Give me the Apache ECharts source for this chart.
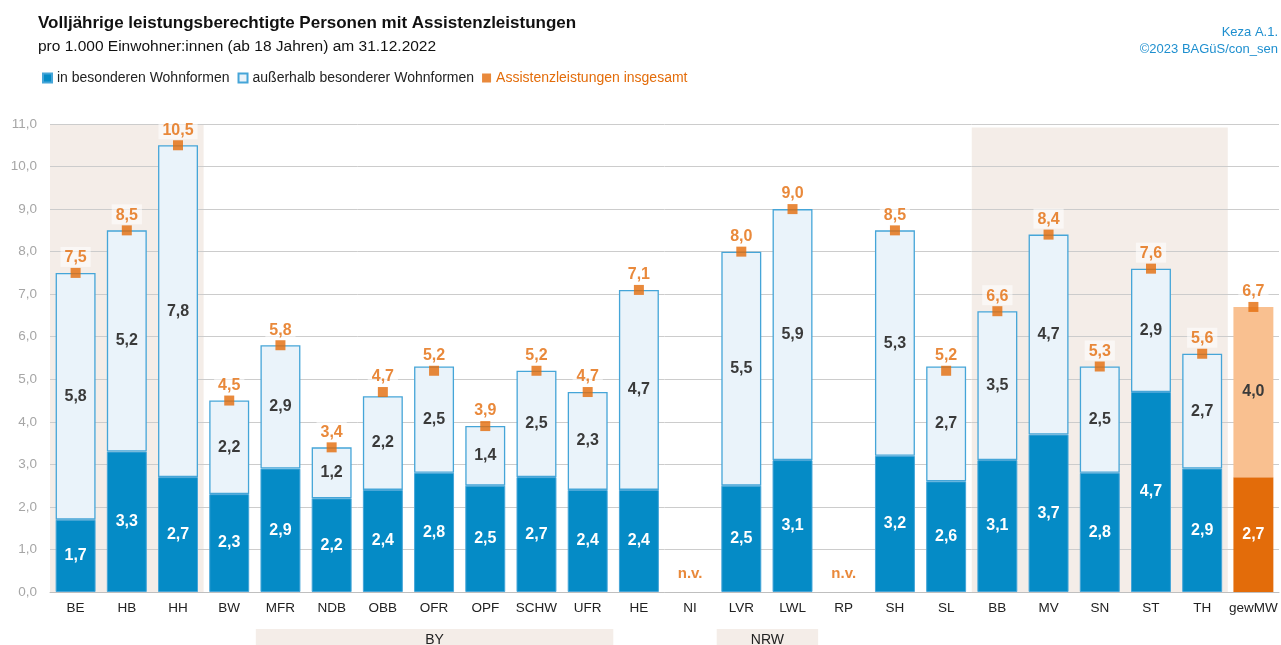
<!DOCTYPE html>
<html><head><meta charset="utf-8">
<script src="https://cdn.jsdelivr.net/npm/echarts@6/dist/echarts.min.js"></script>
<style>html,body{margin:0;padding:0;background:#fff}#c{width:1281px;height:645px}</style>
</head><body><div id="c"></div>
<script>
const categories = ['BE','HB','HH','BW','MFR','NDB','OBB','OFR','OPF','SCHW','UFR','HE','NI','LVR','LWL','RP','SH','SL','BB','MV','SN','ST','TH','gewMW'];
const inWohnformen = [1.7,3.3,2.7,2.3,2.9,2.2,2.4,2.8,2.5,2.7,2.4,2.4,null,2.5,3.1,null,3.2,2.6,3.1,3.7,2.8,4.7,2.9,2.7];
const ausserhalb   = [5.8,5.2,7.8,2.2,2.9,1.2,2.2,2.5,1.4,2.5,2.3,4.7,null,5.5,5.9,null,5.3,2.7,3.5,4.7,2.5,2.9,2.7,4.0];
const insgesamt    = [7.5,8.5,10.5,4.5,5.8,3.4,4.7,5.2,3.9,5.2,4.7,7.1,null,8.0,9.0,null,8.5,5.2,6.6,8.4,5.3,7.6,5.6,6.7];
const notAvailable = ['NI','RP'];
const averageCat = 'gewMW';
const shadedGroups = [['BE','HH',11.0],['BB','TH',10.92]];
const axisGroups = [['BY','MFR','UFR'],['NRW','LVR','LWL']];
const yMin = 0, yMax = 11, yStep = 1;

const FONT = '"Liberation Sans Narrow","Liberation Sans",Arial,sans-serif';
const BLUE = '#058BC6', LIGHT = '#EAF3FA', EDGE = '#45A5D8', ORANGE = '#E36C0A', PEACH = '#F9C090', SHADE = '#F4EDE8';
const fmt = v => v.toFixed(1).replace('.', ',');

const chart = echarts.init(document.getElementById('c'));
const blueData = inWohnformen.map((v,i) => categories[i] === averageCat
  ? {value: v, itemStyle: {color: ORANGE, borderWidth: 0}} : v);
const lightData = ausserhalb.map((v,i) => categories[i] === averageCat
  ? {value: v, itemStyle: {color: PEACH, borderWidth: 0}} : v);
const nvData = categories.map(c => notAvailable.includes(c) ? 0 : null);

chart.setOption({
  animation: false,
  textStyle: {fontFamily: FONT},
  title: [
    {text: 'Volljährige leistungsberechtigte Personen mit Assistenzleistungen', left: 33, top: 10,
     textStyle: {fontFamily: FONT, fontSize: 17, fontWeight: 'bold', color: '#111'}},
    {text: 'pro 1.000 Einwohner:innen (ab 18 Jahren) am 31.12.2022', left: 33, top: 34,
     textStyle: {fontFamily: FONT, fontSize: 15.5, fontWeight: 'normal', color: '#111'}},
    {text: 'Keza A.1.', right: -2, top: 21,
     textStyle: {fontFamily: FONT, fontSize: 13, fontWeight: 'normal', color: '#1E8FCF'}},
    {text: '©2023 BAGüS/con_sen', right: -2, top: 38,
     textStyle: {fontFamily: FONT, fontSize: 13, fontWeight: 'normal', color: '#1E8FCF'}}
  ],
  legend: {
    left: 37, top: 66, icon: 'rect', itemWidth: 9, itemHeight: 9, itemGap: 8,
    textStyle: {fontFamily: FONT, fontSize: 14, color: '#222'},
    data: ['in besonderen Wohnformen', 'außerhalb besonderer Wohnformen',
      {name: 'Assistenzleistungen insgesamt', textStyle: {color: ORANGE}}]
  },
  grid: {left: 50, right: 2, top: 124, bottom: 53},
  xAxis: {
    type: 'category', data: categories,
    axisLine: {lineStyle: {color: '#BFBFBF'}},
    axisTick: {length: 5, lineStyle: {color: '#A6A6A6'}},
    axisLabel: {interval: 0, fontFamily: FONT, fontSize: 13.5, color: '#222', margin: 9}
  },
  yAxis: {
    type: 'value', min: yMin, max: yMax, interval: yStep,
    axisLine: {show: false}, axisTick: {show: false},
    splitLine: {lineStyle: {color: '#CCCCCC'}},
    axisLabel: {fontFamily: FONT, fontSize: 13.5, color: '#A6A6A6', margin: 13, formatter: fmt}
  },
  series: [
    {name: 'in besonderen Wohnformen', type: 'bar', stack: 's', barWidth: '78%', data: blueData,
     itemStyle: {color: BLUE, borderColor: EDGE, borderWidth: 1},
     label: {show: true, position: 'inside', color: '#fff', fontFamily: FONT, fontWeight: 'bold', fontSize: 16,
       formatter: p => fmt(p.value)}},
    {name: 'außerhalb besonderer Wohnformen', type: 'bar', stack: 's', barWidth: '78%', data: lightData,
     itemStyle: {color: LIGHT, borderColor: EDGE, borderWidth: 1.3},
     label: {show: true, position: 'inside', color: '#3A3A3A', fontFamily: FONT, fontWeight: 'bold', fontSize: 16,
       formatter: p => fmt(p.value)}},
    {name: 'Assistenzleistungen insgesamt', type: 'scatter', data: insgesamt, symbol: 'rect', symbolSize: 10, z: 5,
     itemStyle: {color: ORANGE},
     label: {show: true, position: 'top', distance: 1, color: ORANGE, fontFamily: FONT, fontWeight: 'bold', fontSize: 16,
       backgroundColor: 'rgba(255,255,255,0.7)', padding: [3, 4, 1, 4], formatter: p => fmt(p.value)}},
    {name: 'nv', type: 'scatter', data: nvData, symbolSize: 0, z: 5, silent: true,
     label: {show: true, position: 'top', distance: 11, color: ORANGE, fontFamily: FONT, fontWeight: 'bold', fontSize: 15,
       formatter: 'n.v.'}}
  ]
});

function px(cat){ return chart.convertToPixel({xAxisIndex: 0}, cat); }
function py(v){ return chart.convertToPixel({yAxisIndex: 0}, v); }
const bw = px(categories[1]) - px(categories[0]);
const y0 = py(0);
const graphics = [];
shadedGroups.forEach(([a,b,top]) => {
  const x1 = px(a) - bw/2, x2 = px(b) + bw/2, yt = py(top);
  graphics.push({type: 'rect', z: -10, silent: true, shape: {x: x1, y: yt, width: x2 - x1, height: y0 - yt},
    style: {fill: SHADE}});
});
axisGroups.forEach(([name,a,b]) => {
  const x1 = px(a) - bw/2 + 1, x2 = px(b) + bw/2;
  graphics.push({type: 'rect', z: -10, silent: true, shape: {x: x1, y: 629, width: x2 - x1, height: 20},
    style: {fill: SHADE}});
  graphics.push({type: 'text', z: 5, silent: true, x: (x1 + x2)/2, y: 633,
    style: {text: name, fill: '#222', font: '14px ' + FONT, textAlign: 'center', textVerticalAlign: 'top'}});
});
chart.setOption({graphic: graphics});
</script></body></html>
